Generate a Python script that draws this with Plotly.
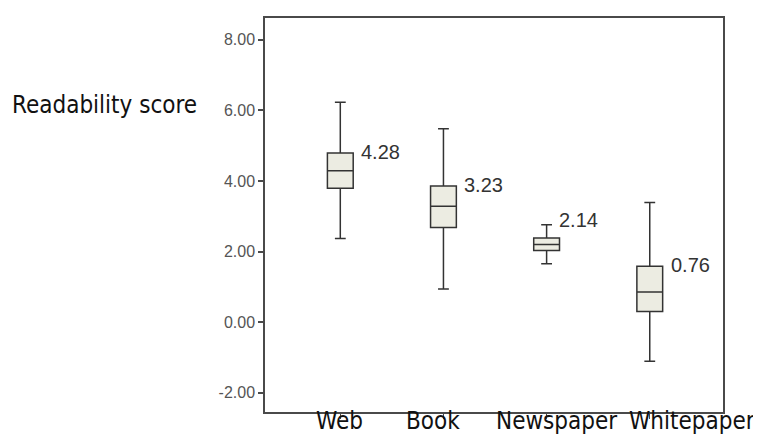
import plotly.graph_objects as go

# ---- data ----
categories = ["Web", "Book", "Newspaper", "Whitepaper"]
lower_whisker = [2.37, 0.94, 1.65, -1.11]
q1_values = [3.79, 2.68, 2.03, 0.30]
medians = [4.29, 3.28, 2.20, 0.85]
q3_values = [4.79, 3.86, 2.38, 1.58]
upper_whisker = [6.23, 5.48, 2.76, 3.39]
mean_labels = ["4.28", "3.23", "2.14", "0.76"]
y_tick_values = [-2, 0, 2, 4, 6, 8]
y_tick_labels = ["-2.00", "0.00", "2.00", "4.00", "6.00", "8.00"]
y_title = "Readability score"

# ---- style ----
label_xshift_cat = [-1, -10, 10, 42]  # category label offsets (px)
frame_color = "#4a4a4a"
label_font = "DejaVu Sans Condensed, DejaVu Sans, sans-serif"

fig = go.Figure()
fig.add_trace(go.Box(
    x=categories,
    q1=q1_values,
    median=medians,
    q3=q3_values,
    lowerfence=lower_whisker,
    upperfence=upper_whisker,
    width=0.25,
    whiskerwidth=0.42,
    fillcolor="#ecece2",
    line=dict(color="#333333", width=1.5),
    showlegend=False,
    hoverinfo="skip",
))

annotations = []
for i, cat in enumerate(categories):
    narrow = (q3_values[i] - q1_values[i]) < 0.5
    if narrow:
        anchor_y, xs, ys = upper_whisker[i], 10, 5
    else:
        anchor_y, xs, ys = q3_values[i], 19, 1
    annotations.append(dict(x=cat, y=anchor_y, xref="x", yref="y",
                            text=mean_labels[i], showarrow=False,
                            xanchor="left", yanchor="middle",
                            xshift=xs, yshift=ys,
                            font=dict(family="Liberation Sans", size=20, color="#333333")))
    annotations.append(dict(x=cat, y=0, xref="x", yref="paper",
                            text=cat, showarrow=False,
                            xanchor="center", yanchor="top",
                            xshift=label_xshift_cat[i], yshift=7,
                            font=dict(family=label_font, size=24, color="#111111")))

annotations.append(dict(x=-0.557, y=0.78, xref="paper", yref="paper",
                        text=y_title, showarrow=False,
                        xanchor="left", yanchor="middle",
                        font=dict(family=label_font, size=24, color="#111111")))

fig.update_layout(
    width=753, height=428,
    margin=dict(l=257, r=38, t=8, b=24),
    paper_bgcolor="white",
    plot_bgcolor="white",
    annotations=annotations,
    xaxis=dict(
        type="category",
        range=[-0.73, 3.71],
        showticklabels=False,
        ticks="outside", ticklen=5, tickwidth=1.2, tickcolor=frame_color,
        showline=True, linecolor=frame_color, linewidth=1.5, mirror=True,
        showgrid=False, zeroline=False,
    ),
    yaxis=dict(
        range=[-2.55, 8.62],
        tickvals=y_tick_values,
        ticktext=y_tick_labels,
        ticks="outside", ticklen=5, tickwidth=1.5, tickcolor=frame_color,
        tickfont=dict(family="Liberation Sans", size=16, color="#555555"),
        showline=True, linecolor=frame_color, linewidth=1.5, mirror=True,
        showgrid=False, zeroline=False,
    ),
)

fig.write_html("out.html")
